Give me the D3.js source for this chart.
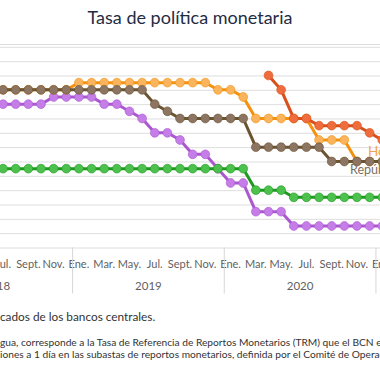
<!DOCTYPE html>
<html lang="es">
<head>
<meta charset="utf-8">
<script src="https://d3js.org/d3.v7.min.js"></script>
<style>
    body { margin: 0; background: #fff; }
    svg { display: block; font-family: Lato, "DejaVu Sans", sans-serif; }
</style>
</head>
<body>
<div id="tpm"></div>
<script>
var years = [2018, 2019, 2020, 2021];
var monthNames = ["Ene.", "Feb.", "Mar.", "Abr.", "May.", "Jun.", "Jul.", "Ago.", "Sept.", "Oct.", "Nov.", "Dic."];
var yTicks = [0, 0.5, 1, 1.5, 2, 2.5, 3, 3.5, 4, 4.5, 5, 5.5, 6, 6.5, 7];

// monthly values, June 2018 -> January 2021
var costaRica = [5, 5, 5, 5, 5, 5.25, 5.25, 5.25, 5.25, 5, 5, 4.75, 4.5, 4, 4, 3.75, 3.25, 3.25, 2.75,
    2.25, 2.25, 1.25, 1.25, 1.25, 0.75, 0.75, 0.75, 0.75, 0.75, 0.75, 0.75, 0.75];
var guatemala = [2.75, 2.75, 2.75, 2.75, 2.75, 2.75, 2.75, 2.75, 2.75, 2.75, 2.75, 2.75, 2.75, 2.75, 2.75,
    2.75, 2.75, 2.75, 2.75, 2.75, 2.75, 2, 2, 2, 1.75, 1.75, 1.75, 1.75, 1.75, 1.75, 1.75, 1.75];
var honduras = [5.5, 5.5, 5.5, 5.5, 5.5, 5.5, 5.5, 5.75, 5.75, 5.75, 5.75, 5.75, 5.75, 5.75, 5.75, 5.75,
    5.75, 5.75, 5.5, 5.5, 5.25, 4.5, 4.5, 4.5, 4.5, 4.5, 3.75, 3.75, 3.75, 3, 3, 3];
var nicaragua = [null, null, null, null, null, null, null, null, null, null, null, null, null, null, null,
    null, null, null, null, null, null, null, 6, 5.5, 4.5, 4.5, 4.25, 4.25, 4.25, 4.25, 4, 3.75];
var repDom = [5.5, 5.5, 5.5, 5.5, 5.5, 5.5, 5.5, 5.5, 5.5, 5.5, 5.5, 5.5, 5.5, 5, 4.75, 4.5, 4.5, 4.5,
    4.5, 4.5, 4.5, 3.5, 3.5, 3.5, 3.5, 3.5, 3.5, 3, 3, 3, 3, 3];

var W = 380, H = 380;
var svg = d3.select("#tpm").append("svg")
    .attr("width", W)
    .attr("height", H);

svg.append("text")
    .attr("x", W / 2)
    .attr("y", 24)
    .attr("text-anchor", "middle")
    .style("font-size", "18px")
    .style("fill", "#1f2c44")
    .text("Tasa de política monetaria");

svg.append("line")
    .attr("x1", 0).attr("x2", W)
    .attr("y1", 44.5).attr("y2", 44.5)
    .style("stroke", "#dcdcdc");

// month categories, the view is a crop of a wider chart
var keys = [];
years.forEach(function (yr) {
    monthNames.forEach(function (m, i) { keys.push(yr + "-" + i); });
});
var step = 12.64;
var x = d3.scaleBand()
    .domain(keys)
    .range([-79.1, -79.1 + keys.length * step]);
var dataKeys = keys.slice(5, 5 + costaRica.length);

var y = d3.scaleLinear()
    .domain([0, 7])
    .range([247.5, 46.8]);

var grid = svg.append("g")
    .call(d3.axisRight(y).tickValues(yTicks).tickSize(W).tickFormat(""));
grid.select(".domain").remove();
grid.selectAll("line").style("stroke", "#dedede").style("stroke-width", 1);

// x axis: month labels every two months, year separators
var axisY = y(0);
var labelKeys = keys.filter(function (k) { return +k.split("-")[1] % 2 === 0; });
svg.append("g").selectAll("text")
    .data(labelKeys)
    .enter().append("text")
    .attr("x", function (k) { return x(k) + x.bandwidth() / 2; })
    .attr("y", axisY + 20)
    .attr("text-anchor", "middle")
    .style("font-size", "11px")
    .style("fill", "#5f5f5f")
    .text(function (k) { return monthNames[+k.split("-")[1]]; });

svg.append("g").selectAll("line")
    .data(years)
    .enter().append("line")
    .attr("x1", function (yr) { return x(yr + "-0"); })
    .attr("x2", function (yr) { return x(yr + "-0"); })
    .attr("y1", axisY)
    .attr("y2", axisY + 46)
    .style("stroke", "#d6d6d6");

svg.append("g").selectAll("text")
    .data(years)
    .enter().append("text")
    .attr("x", function (yr) { return x(yr + "-0") + 6 * step; })
    .attr("y", axisY + 42)
    .attr("text-anchor", "middle")
    .style("font-size", "11.5px")
    .style("fill", "#5f5f5f")
    .text(function (yr) { return yr; });

// series
var series = [
    { name: "Costa Rica", values: costaRica, line: "#ab58d0", fill: "#c57de8" },
    { name: "Guatemala", values: guatemala, line: "#1f991f", fill: "#4dc14d" },
    { name: "Honduras", values: honduras, line: "#f4920f", fill: "#f9b45d" },
    { name: "Nicaragua", values: nicaragua, line: "#d8501b", fill: "#ef6d3d" },
    { name: "República Dominicana", values: repDom, line: "#6a5431", fill: "#8d7563" }
];

var line = d3.line()
    .defined(function (d) { return d != null; })
    .x(function (d, i) { return x(dataKeys[i]) + x.bandwidth() / 2; })
    .y(function (d) { return y(d); });

series.forEach(function (s) {
    var g = svg.append("g");
    g.append("path")
        .attr("d", line(s.values))
        .style("fill", "none")
        .style("stroke", s.line)
        .style("stroke-width", 3);
    g.selectAll("circle")
        .data(s.values.map(function (v, i) { return { v: v, k: dataKeys[i] }; })
            .filter(function (d) { return d.v != null; }))
        .enter().append("circle")
        .attr("cx", function (d) { return x(d.k) + x.bandwidth() / 2; })
        .attr("cy", function (d) { return y(d.v); })
        .attr("r", 4.4)
        .style("fill", s.fill)
        .style("stroke", s.line)
        .style("stroke-opacity", 0.6)
        .style("stroke-width", 1);
});

// end labels (cut by the crop)
svg.append("text")
    .attr("x", 368)
    .attr("y", y(3) - 5)
    .style("font-size", "13.5px")
    .style("fill", "#f6a24b")
    .text("Honduras");
svg.append("text")
    .attr("x", 350)
    .attr("y", y(3) + 13)
    .style("font-size", "12.5px")
    .style("fill", "#7b6f62")
    .text("República Dominicana");

// notes below the chart, shifted so the crop starts where the reference does
var notes = [
    { text: "Fuente: elaboración propia con base en datos publicados de los bancos centrales.", cut: 50, y: 321, size: 11.8 },
    { text: "Nota: para el caso de Nicaragua, corresponde a la Tasa de Referencia de Reportos Monetarios (TRM) que el BCN establece para sus", cut: 28, y: 346, size: 10.2 },
    { text: "operaciones a 1 día en las subastas de reportos monetarios, definida por el Comité de Operaciones Monetarias.", cut: 6, y: 357.5, size: 10.2 }
];
notes.forEach(function (n) {
    var t = svg.append("text")
        .attr("y", n.y)
        .style("font-size", n.size + "px")
        .style("fill", "#333")
        .text(n.text);
    var shift = t.node().getSubStringLength(0, n.cut);
    t.attr("x", -shift);
});
</script>
</body>
</html>
